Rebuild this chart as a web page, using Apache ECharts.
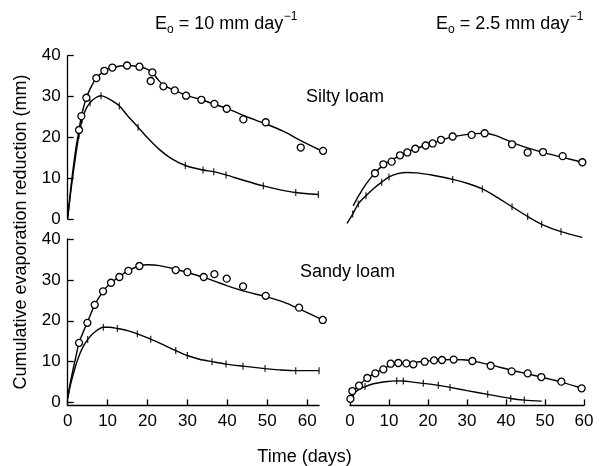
<!DOCTYPE html>
<html>
<head>
<meta charset="utf-8">
<script src="https://cdn.jsdelivr.net/npm/echarts@6/dist/echarts.min.js"></script>
<style>
html,body{margin:0;padding:0;background:#fff;}
#chart{width:599px;height:466px;}
</style>
</head>
<body>
<div id="chart"></div>
<script>
// ---------- DATA (day, cumulative evaporation reduction mm) ----------
// x-axis tick labels
const xTicks = [0, 10, 20, 30, 40, 50, 60];
const yTicks = [0, 10, 20, 30, 40];

// Silty loam, Eo = 10 mm/day
const siltyE10Obs = [[2.84,21.8],[3.43,25.2],[4.68,29.7],[7.18,34.5],[9.19,36.3],[11.19,37.1],[14.87,37.6],[17.98,37.3],[21.22,35.9],[20.8,33.8],[23.98,32.5],[26.82,31.5],[29.66,30.2],[33.5,29.2],[36.76,28.2],[39.85,27.0],[44.01,24.4],[49.62,23.7],[58.4,17.5],[63.99,16.7]];
const siltyE10Fit = [[0,0],[0.5,5],[1,9.5],[2,17],[2.84,21.8],[3.43,25.2],[4.68,29.7],[6,32.6],[7.18,34.5],[9.19,36.3],[11.19,37.1],[14.87,37.6],[17.98,37.3],[19.5,36.9],[21.22,35.9],[22.5,34.3],[24,32.8],[26.82,31.5],[29.66,30.3],[33.5,29.2],[36.76,28.1],[39.85,27.1],[44,25.4],[49.62,23.3],[54,21.5],[58.4,19.2],[64,16.5]];
const siltyE10Low = [[0,0.5],[0.5,4.5],[1,8.5],[2,15.5],[2.8,20.5],[3.6,24.3],[4.5,26.8],[5.6,28.5],[7,29.7],[8.35,30.2],[10,29.6],[12.95,27.7],[15,25.3],[17.63,22.5],[20,19.9],[23,17],[26,14.8],[29.49,13.1],[33.92,12.0],[36.59,11.6],[39.68,10.8],[44,9.5],[49.04,8.1],[53,7.2],[57.14,6.5],[62.82,6.0]];
const siltyE10LowMarks = [[2.8,20.5],[3.6,24.3],[5.6,28.5],[8.35,30.2],[12.95,27.7],[17.63,22.5],[29.49,13.1],[33.92,12.0],[36.59,11.6],[39.68,10.8],[49.04,8.1],[57.14,6.5],[62.82,6.0]];

// Sandy loam, Eo = 10 mm/day
const sandyE10Obs = [[2.84,14.6],[4.93,19.5],[6.77,23.9],[8.86,27.2],[10.86,29.3],[12.95,30.7],[15.2,32.2],[17.96,33.4],[27.07,32.4],[29.99,31.9],[34.09,30.7],[36.76,31.4],[39.85,30.3],[43.94,28.4],[49.62,26.1],[57.98,23.2],[63.91,20.2]];
const sandyE10Fit = [[0,1],[0.5,4],[1,6.5],[2,11],[2.84,14.6],[4,17.5],[4.93,19.6],[6.77,23.9],[8.86,27.2],[10.86,29.3],[12.95,30.8],[15.2,32.3],[17.96,33.4],[20,33.7],[23,33.5],[27.07,32.6],[30,31.8],[34.09,30.6],[36.76,29.7],[39.85,28.6],[43.94,27.3],[49.62,25.9],[54,24.6],[57.98,22.9],[63.91,20.2]];
const sandyE10Low = [[0,1],[0.5,3.5],[1,5.5],[2,9],[3,11.8],[4,13.9],[5,15.4],[6.5,17],[8.94,18.4],[10.5,18.4],[12.45,18.1],[15,17.6],[17.46,16.8],[20.8,15.5],[24,14.1],[27.07,12.7],[29.99,11.5],[33,10.6],[36.17,10.0],[39.68,9.4],[43.94,8.9],[49.46,8.3],[53,8.0],[57.14,7.8],[62.99,7.8]];
const sandyE10LowMarks = [[5,15.4],[8.94,18.4],[12.45,18.1],[17.46,16.8],[20.8,15.5],[27.07,12.7],[29.99,11.5],[36.17,10.0],[39.68,9.4],[43.94,8.9],[49.46,8.3],[57.14,7.8],[62.99,7.8]];

// Silty loam, Eo = 2.5 mm/day
const siltyE25Obs = [[7.18,11.2],[9.32,13.4],[11.45,14.05],[13.59,15.6],[15.47,16.3],[17.52,17.2],[20.17,18.0],[21.97,18.5],[24.1,19.4],[27.09,20.2],[31.97,20.6],[35.3,21.0],[42.31,18.3],[46.32,16.3],[50.26,16.4],[55.3,15.4],[60.34,13.9]];
const siltyE25Fit = [[1.6,3.2],[3,5.7],[5,8.7],[7.18,11.3],[9.32,13.2],[11.45,14.4],[13.59,15.6],[15.47,16.4],[17.52,17.2],[20.17,18.0],[22,18.6],[24.1,19.3],[27.09,20.1],[30,20.6],[33,20.9],[35.3,21.0],[38,20.5],[40,19.7],[42.31,18.8],[46.32,17.4],[50.26,16.3],[55.3,15.1],[60.34,13.9]];
const siltyE25Low = [[0,-1.1],[1.45,1.2],[2.9,3.7],[4.87,5.7],[7,7.6],[8.89,9.0],[10.77,10.3],[13,11.1],[15.3,11.4],[18,11.3],[22,10.7],[27.09,9.7],[31,8.7],[34.7,7.35],[38.5,5.3],[42.31,3.0],[46.32,0.6],[49.9,-1.3],[54.87,-3.1],[60.34,-4.5]];
const siltyE25LowMarks = [[1.45,1.2],[2.9,3.7],[4.87,5.7],[8.89,9.0],[10.77,10.3],[27.09,9.7],[34.7,7.35],[42.31,3.0],[46.32,0.6],[49.9,-1.3],[54.87,-3.1]];

// Sandy loam, Eo = 2.5 mm/day
const sandyE25Obs = [[0.1,0.9],[0.6,2.81],[2.31,4.12],[4.44,6.0],[6.5,7.14],[8.55,8.12],[10.43,9.5],[12.39,9.67],[14.44,9.58],[16.24,9.34],[19.15,9.99],[21.54,10.3],[23.59,10.4],[26.58,10.5],[31.37,10.16],[36.07,9.0],[41.45,7.63],[45.56,7.14],[49.06,6.24],[54.19,5.1],[59.4,3.47]];
const sandyE25Fit = [[0,0.3],[0.6,2.3],[2.31,4.2],[4.44,6.0],[6.5,7.2],[8.55,8.3],[10.43,9.1],[12.39,9.5],[14.44,9.7],[16.24,9.8],[19.15,10.1],[21.54,10.3],[23.59,10.45],[26.58,10.5],[29,10.45],[31.37,10.2],[36.07,9.2],[41.45,7.9],[45.56,7.0],[49.06,6.2],[54.19,5.0],[59.4,3.5]];
const sandyE25Low = [[0,0.2],[0.9,2.0],[2,3.0],[3.85,3.9],[6,4.6],[9,5.1],[11.97,5.3],[13.68,5.28],[16,5.0],[18.8,4.7],[22.65,4.2],[25.64,3.7],[30,2.9],[35.3,2.0],[41.2,1.0],[44.7,0.6],[49.15,0.35]];
const sandyE25LowMarks = [[0.9,2.0],[3.85,3.9],[11.97,5.3],[13.68,5.28],[18.8,4.7],[22.65,4.2],[25.64,3.7],[35.3,2.0],[41.2,1.0],[44.7,0.6]];

const soilLabels = ['Silty loam', 'Sandy loam'];
const yTitle = 'Cumulative evaporation reduction (mm)';
const xTitle = 'Time (days)';

// ---------- CHART ----------
const FONT = '"Liberation Sans", Arial, Helvetica, sans-serif';
const chart = echarts.init(document.getElementById('chart'), null, {renderer: 'canvas'});

const axisLine = {show: true, lineStyle: {color: '#000', width: 1.3}};
const axisTick = {show: true, inside: true, length: 6, lineStyle: {color: '#000', width: 1.3}};
const axisLabel = {color: '#000', fontSize: 17, fontFamily: FONT, margin: 7};

const grids = [
  {left: 67.7, top: 55.7, width: 251.4, height: 163.3},   // silty, Eo 10
  {left: 67.7, top: 239, width: 251.4, height: 166.4},    // sandy, Eo 10
  {left: 347, top: 55.7, width: 237.9, height: 204.1},    // silty, Eo 2.5
  {left: 350, top: 239, width: 234, height: 166.4}        // sandy, Eo 2.5
];

const xAxes = [
  {gridIndex: 0, type: 'value', min: 0, max: 63, show: false},
  {gridIndex: 1, type: 'value', min: 0, max: 63, axisLine: {...axisLine, onZero: false},
    axisTick: {...axisTick, customValues: xTicks}, axisLabel: {...axisLabel, customValues: xTicks}, splitLine: {show: false}},
  {gridIndex: 2, type: 'value', min: 0, max: 61, show: false},
  {gridIndex: 3, type: 'value', min: 0, max: 60, interval: 10, axisLine: {...axisLine, onZero: false},
    axisTick: axisTick, axisLabel: axisLabel, splitLine: {show: false}}
];
const yAxes = [
  {gridIndex: 0, type: 'value', min: 0, max: 40, interval: 10, axisLine: {...axisLine, onZero: false},
    axisTick: axisTick, axisLabel: axisLabel, splitLine: {show: false}},
  {gridIndex: 1, type: 'value', min: -0.7, max: 40, axisLine: {...axisLine, onZero: false},
    axisTick: {...axisTick, customValues: yTicks}, axisLabel: {...axisLabel, customValues: yTicks}, splitLine: {show: false}},
  {gridIndex: 2, type: 'value', min: -10, max: 40, show: false},
  {gridIndex: 3, type: 'value', min: -0.7, max: 40, show: false}
];

function fitLine(data, idx) {
  return {type: 'line', data: data, xAxisIndex: idx, yAxisIndex: idx, smooth: 0.3, showSymbol: false,
    symbol: 'none', clip: false, lineStyle: {color: '#000', width: 1.4}, z: 2, silent: true};
}
function obsCircles(data, idx) {
  return {type: 'scatter', data: data, xAxisIndex: idx, yAxisIndex: idx, symbol: 'circle', symbolSize: 7,
    clip: false, itemStyle: {color: '#fff', borderColor: '#000', borderWidth: 1.3, opacity: 1}, z: 4, silent: true};
}
function tickMarks(data, idx) {
  return {type: 'scatter', data: data, xAxisIndex: idx, yAxisIndex: idx, symbol: 'rect', symbolSize: [1.3, 7],
    clip: false, itemStyle: {color: '#000'}, z: 3, silent: true};
}

const series = [
  fitLine(siltyE10Fit, 0), fitLine(siltyE10Low, 0), obsCircles(siltyE10Obs, 0), tickMarks(siltyE10LowMarks, 0),
  fitLine(sandyE10Fit, 1), fitLine(sandyE10Low, 1), obsCircles(sandyE10Obs, 1), tickMarks(sandyE10LowMarks, 1),
  fitLine(siltyE25Fit, 2), fitLine(siltyE25Low, 2), obsCircles(siltyE25Obs, 2), tickMarks(siltyE25LowMarks, 2),
  fitLine(sandyE25Fit, 3), fitLine(sandyE25Low, 3), obsCircles(sandyE25Obs, 3), tickMarks(sandyE25LowMarks, 3)
];

// measure text for composing titles with sub/superscripts
const mctx = document.createElement('canvas').getContext('2d');
function tw(t, size) { mctx.font = size + 'px ' + FONT; return mctx.measureText(t).width; }
function eoTitle(x0, yc, valueText) {
  const els = [];
  let x = x0;
  els.push({type: 'text', x: x, y: yc, style: {text: 'E', font: '18px ' + FONT, fill: '#000', textVerticalAlign: 'middle'}});
  x += tw('E', 18);
  els.push({type: 'text', x: x, y: yc + 6, style: {text: 'o', font: '12px ' + FONT, fill: '#000', textVerticalAlign: 'middle'}});
  x += tw('o', 12);
  const mid = ' = ' + valueText + ' mm day';
  els.push({type: 'text', x: x, y: yc, style: {text: mid, font: '18px ' + FONT, fill: '#000', textVerticalAlign: 'middle'}});
  x += tw(mid, 18);
  els.push({type: 'text', x: x + 0.5, y: yc - 7, style: {text: '\u22121', font: '12px ' + FONT, fill: '#000', textVerticalAlign: 'middle'}});
  return els;
}

const graphics = [].concat(
  eoTitle(155, 24, '10'),
  eoTitle(436, 24, '2.5'),
  [
    {type: 'text', x: 306, y: 97, style: {text: soilLabels[0], font: '18px ' + FONT, fill: '#000', textVerticalAlign: 'middle'}},
    {type: 'text', x: 300, y: 272, style: {text: soilLabels[1], font: '18px ' + FONT, fill: '#000', textVerticalAlign: 'middle'}},
    {type: 'text', x: 304.5, y: 457, style: {text: xTitle, font: '18px ' + FONT, fill: '#000', textAlign: 'center', textVerticalAlign: 'middle'}},
    {type: 'text', x: 21, y: 232, rotation: Math.PI / 2, style: {text: yTitle, font: '18px ' + FONT, fill: '#000', textAlign: 'center', textVerticalAlign: 'middle'}}
  ]
);

chart.setOption({
  animation: false,
  backgroundColor: '#fff',
  grid: grids,
  xAxis: xAxes,
  yAxis: yAxes,
  series: series,
  graphic: graphics
});
</script>
</body>
</html>
